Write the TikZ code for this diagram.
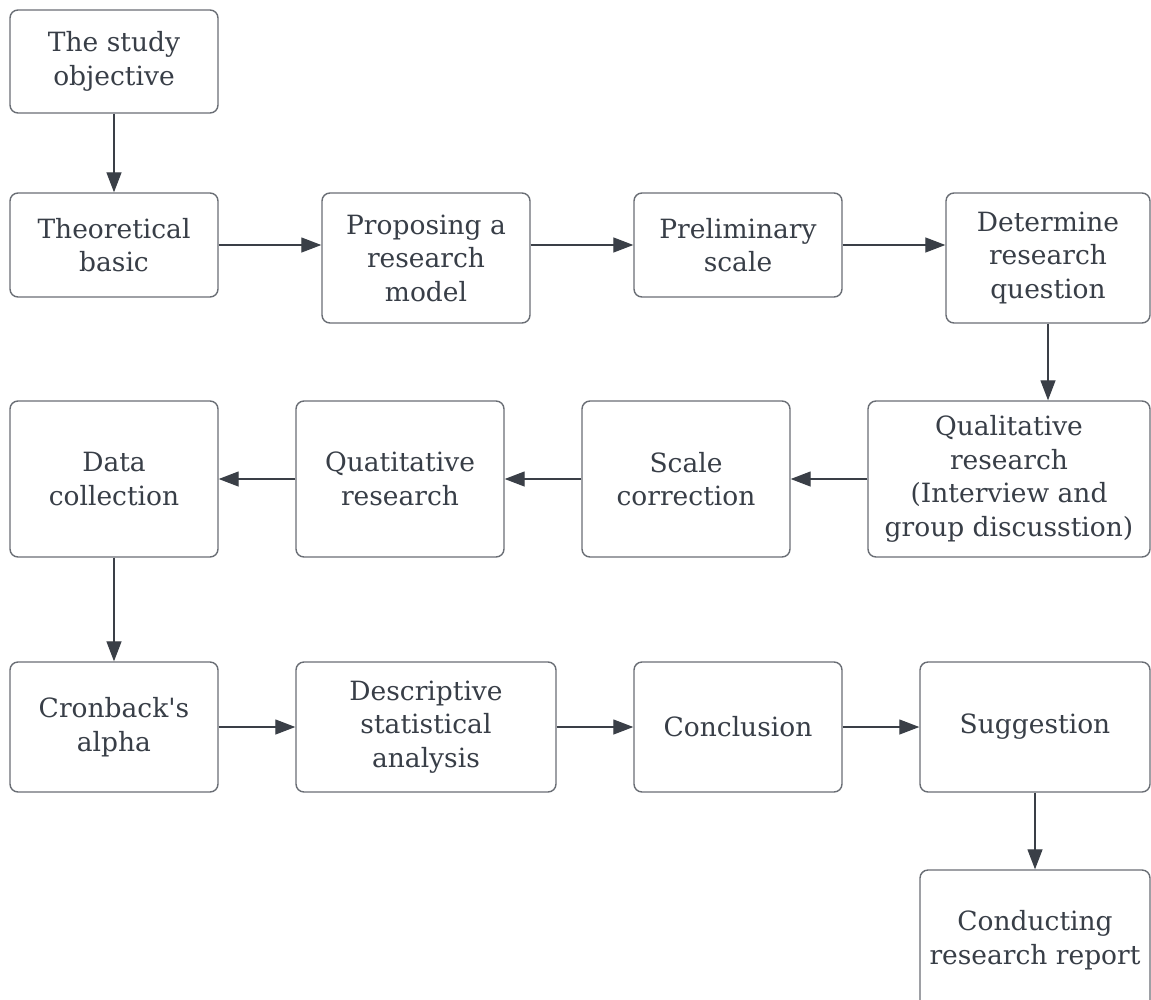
\documentclass[tikz,border=0pt]{standalone}
\usepackage{fontspec}
\setmainfont{DejaVu Serif}
\usetikzlibrary{arrows.meta}
\definecolor{boxline}{HTML}{6A6E75}
\definecolor{arrowline}{HTML}{3A3F47}
\definecolor{txt}{HTML}{383E47}
\tikzset{
  stepbox/.style={draw=boxline, line width=1.4pt, rounded corners=8pt,
    fill=white, inner sep=0pt, align=center, text=txt,
    font=\fontsize{26.5}{33.5}\selectfont},
  flow/.style={draw=arrowline, line width=1.3pt,
    -{Triangle[length=20pt,width=15pt]}}
}
% box from (x1,y1) to (x2,y2), in picture pixels
\newcommand{\flowbox}[6]{%
  \node[stepbox, minimum width={#4-#2}, minimum height={#5-#3}]
    (#1) at ({(#2+#4)/2},{(#3+#5)/2}) {#6};}
\begin{document}
\begin{tikzpicture}[x=1pt,y=-1pt]
\useasboundingbox[fill=white] (0,0) rectangle (1151,999);

\flowbox{obj}{10}{10}{218}{113}{The study\\objective}
\flowbox{theo}{10}{193}{218}{297}{Theoretical\\basic}
\flowbox{model}{322}{193}{530}{323}{Proposing a\\research\\model}
\flowbox{pre}{634}{193}{842}{297}{Preliminary\\scale}
\flowbox{quest}{946}{193}{1150}{323}{Determine\\research\\question}

\flowbox{qual}{868}{401}{1150}{557}{Qualitative\\research\\(Interview and\\group discusstion)}
\flowbox{corr}{582}{401}{790}{557}{Scale\\correction}
\flowbox{quant}{296}{401}{504}{557}{Quatitative\\research}
\flowbox{data}{10}{401}{218}{557}{Data\\collection}

\flowbox{alpha}{10}{662}{218}{792}{Cronback\textquotesingle s\\alpha}
\flowbox{desc}{296}{662}{556}{792}{Descriptive\\statistical\\analysis}
\flowbox{concl}{634}{662}{842}{792}{Conclusion}
\flowbox{sugg}{920}{662}{1150}{792}{Suggestion}
\flowbox{report}{920}{870}{1150}{1010}{Conducting\\research report}

\draw[flow] (obj) -- (theo);
\draw[flow] (theo.east) -- (model.west |- theo.east);
\draw[flow] (model.east |- pre.west) -- (pre.west);
\draw[flow] (pre.east) -- (quest.west |- pre.east);
\draw[flow] (quest) -- (quest |- qual.north);
\draw[flow] (qual) -- (corr);
\draw[flow] (corr) -- (quant);
\draw[flow] (quant) -- (data);
\draw[flow] (data) -- (alpha);
\draw[flow] (alpha) -- (desc);
\draw[flow] (desc) -- (concl);
\draw[flow] (concl) -- (sugg);
\draw[flow] (sugg.south) -- (sugg.south |- report.north);
\end{tikzpicture}
\end{document}
